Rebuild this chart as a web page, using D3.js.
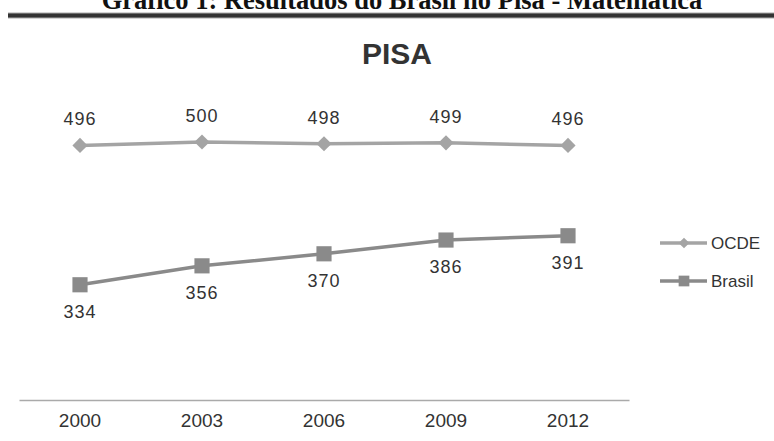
<!DOCTYPE html>
<html>
<head>
<meta charset="utf-8">
<script src="https://cdn.jsdelivr.net/npm/d3@7"></script>
<style>
  body { margin: 0; background: #fff; }
  svg { display: block; }
</style>
</head>
<body>
<svg id="chart"></svg>
<script>
const years = ["2000", "2003", "2006", "2009", "2012"];
const ocde = [496, 500, 498, 499, 496];
const brasil = [334, 356, 370, 386, 391];
const seriesNames = ["OCDE", "Brasil"];

const width = 774, height = 441;
const svg = d3.select("#chart").attr("width", width).attr("height", height);

// page heading (cut off at the top, as in the scan)
svg.append("text")
  .attr("x", 402).attr("y", 9)
  .attr("text-anchor", "middle")
  .style("font-family", "'Liberation Serif', 'Times New Roman', serif")
  .style("font-weight", "bold")
  .style("font-size", "26.5px")
  .attr("fill", "#111")
  .text("Gráfico 1: Resultados do Brasil no Pisa - Matemática");

svg.append("rect").attr("x", 8).attr("y", 12.5).attr("width", width - 8).attr("height", 6).attr("fill", "#aaa");
svg.append("rect").attr("x", 8).attr("y", 13.5).attr("width", width - 8).attr("height", 4).attr("fill", "#333");

svg.append("text")
  .attr("x", 397).attr("y", 64)
  .attr("text-anchor", "middle")
  .style("font-family", "'Liberation Sans', Arial, sans-serif")
  .style("font-weight", "bold")
  .style("font-size", "30px")
  .attr("fill", "#333")
  .text("PISA");

const x = d3.scaleBand().domain(years).range([19, 629]);
const y = d3.scaleLinear().domain([200, 600]).range([400, 56]);
const cx = d => x(d) + x.bandwidth() / 2;

// category axis
const xAxis = g => g
  .attr("transform", `translate(0,${y(200)})`)
  .call(d3.axisBottom(x).tickSize(0).tickPadding(14))
  .call(g => g.select(".domain").attr("stroke", "#aaa").attr("stroke-width", 1.5))
  .call(g => g.selectAll("text")
    .attr("fill", "#333")
    .style("font-family", "'Liberation Sans', Arial, sans-serif")
    .style("font-size", "19px"));
svg.append("g").call(xAxis);

// diamond = square turned 45 degrees
const series = [
  { name: "OCDE", values: ocde, color: "#a4a4a4", marker: d3.symbolSquare, rot: 45, size: 115, above: true },
  { name: "Brasil", values: brasil, color: "#8a8a8a", marker: d3.symbolSquare, rot: 0, size: 230, above: false }
];

const line = d3.line().x((d, i) => cx(years[i])).y(d => y(d));

series.forEach(s => {
  const g = svg.append("g");
  g.append("path")
    .datum(s.values)
    .attr("d", line)
    .attr("fill", "none")
    .attr("stroke", s.color)
    .attr("stroke-width", 3.5);

  g.selectAll("path.m")
    .data(s.values)
    .join("path")
    .attr("class", "m")
    .attr("d", d3.symbol().type(s.marker).size(s.size))
    .attr("transform", (d, i) => `translate(${cx(years[i])},${y(d)}) rotate(${s.rot})`)
    .attr("fill", s.color);

  g.selectAll("text")
    .data(s.values)
    .join("text")
    .attr("x", (d, i) => cx(years[i]))
    .attr("y", d => s.above ? y(d) - 20 : y(d) + 33)
    .attr("text-anchor", "middle")
    .style("font-family", "'Liberation Sans', Arial, sans-serif")
    .style("font-size", "18px")
    .style("letter-spacing", "1px")
    .attr("fill", "#333")
    .text(d => d);
});

// legend
const legend = svg.append("g");
series.forEach((s, i) => {
  const ly = 243 + i * 38;
  legend.append("line")
    .attr("x1", 660).attr("x2", 707).attr("y1", ly).attr("y2", ly)
    .attr("stroke", s.color).attr("stroke-width", 3.5);
  legend.append("path")
    .attr("d", d3.symbol().type(s.marker).size(s.size * 0.5))
    .attr("transform", `translate(684,${ly}) rotate(${s.rot})`)
    .attr("fill", s.color);
  legend.append("text")
    .attr("x", 711).attr("y", ly + 6)
    .style("font-family", "'Liberation Sans', Arial, sans-serif")
    .style("font-size", "17px")
    .attr("fill", "#333")
    .text(s.name);
});
</script>
</body>
</html>
